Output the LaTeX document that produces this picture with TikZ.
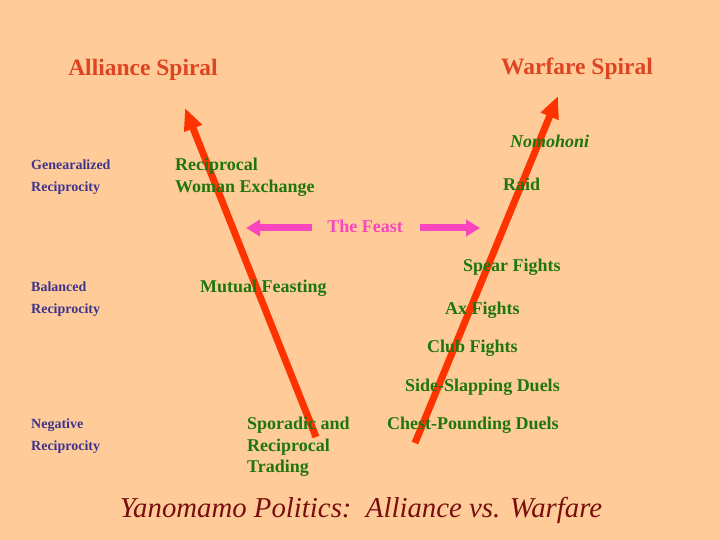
\documentclass[tikz,border=0pt]{standalone}
\usepackage{fontspec}
\setmainfont{Liberation Serif}
\usetikzlibrary{arrows.meta}
\definecolor{peach}{RGB}{255,204,153}
\definecolor{spiralred}{RGB}{222,68,32}
\definecolor{arrowred}{RGB}{255,51,0}
\definecolor{eventgreen}{RGB}{30,118,14}
\definecolor{exchblue}{RGB}{62,52,140}
\definecolor{feastpink}{RGB}{250,70,190}
\definecolor{titlered}{RGB}{122,14,14}
\tikzstyle{spiral title}=[font=\fontsize{23.5}{27}\selectfont\bfseries,text=spiralred,inner sep=0pt,anchor=base]
\tikzstyle{exchange}=[font=\fontsize{14}{21.5}\selectfont\bfseries,text=exchblue,align=left,anchor=north west,inner sep=0pt]
\tikzstyle{event}=[font=\fontsize{18}{21.5}\selectfont\bfseries,text=eventgreen,anchor=base west,inner sep=0pt]
\tikzstyle{spiral arrow}=[draw=arrowred,line width=7pt,-{Triangle[length=22pt,width=18pt]}]
\tikzstyle{feast arrow}=[draw=feastpink,line width=7pt,-{Triangle[length=14pt,width=16pt]}]

\begin{document}
\begin{tikzpicture}[x=1pt,y=-1pt]
        \fill[peach] (0,0) rectangle (720,540);
        \useasboundingbox (0,0) rectangle (720,540);

        % the two spirals
        \coordinate (alliance foot) at (316,437);
        \coordinate (alliance top) at (185,108);
        \coordinate (warfare foot) at (415,443);
        \coordinate (warfare top) at (558,96);
        \path[spiral arrow] (alliance foot) -- (alliance top);
        \path[spiral arrow] (warfare foot) -- (warfare top);

        \node[spiral title] (alliance) at (143,76) {Alliance Spiral};
        \node[spiral title] (warfare) at (577,75) {Warfare Spiral};

        % the feast in between
        \node[font=\fontsize{18}{21.5}\selectfont\bfseries,text=feastpink,inner sep=0pt] (feast) at (365,226) {The Feast};
        \coordinate (feast left) at (246,228);
        \coordinate (feast right) at (480,228);
        \path[feast arrow] ([xshift=-53pt]feast.center |- feast left) -- (feast left);
        \path[feast arrow] ([xshift=55pt]feast.center |- feast right) -- (feast right);

        % kinds of reciprocity
        \node[exchange] (general) at (31,160) {Genearalized\\Reciprocity};
        \node[exchange] (balanced) at (31,282) {Balanced\\Reciprocity};
        \node[exchange] (negative) at (31,419) {Negative\\Reciprocity};

        % alliance side
        \node[event,anchor=north west,align=left] (woman) at (175,158) {Reciprocal\\Woman Exchange};
        \node[event] (mutual) at (200,292) {Mutual Feasting};
        \node[event,anchor=north west,align=left] (trading) at (247,417) {Sporadic and\\Reciprocal\\Trading};

        % warfare side
        \node[event,font=\fontsize{18}{21.5}\selectfont\bfseries\itshape] (nomohoni) at (510,148) {Nomohoni};
        \node[event] (raid) at (503,191) {Raid};
        \node[event] (spear) at (463,271) {Spear Fights};
        \node[event] (ax) at (445,314) {Ax Fights};
        \node[event] (club) at (427,352) {Club Fights};
        \node[event] (side) at (405,391) {Side-Slapping Duels};
        \node[event] (chest) at (387,429) {Chest-Pounding Duels};

        \node[font=\fontsize{28.8}{32}\selectfont\itshape,text=titlered,anchor=base,inner sep=0pt] (politics) at (361,517) {Yanomamo Politics:\ \ Alliance vs. Warfare};
    \end{tikzpicture}
\end{document}
